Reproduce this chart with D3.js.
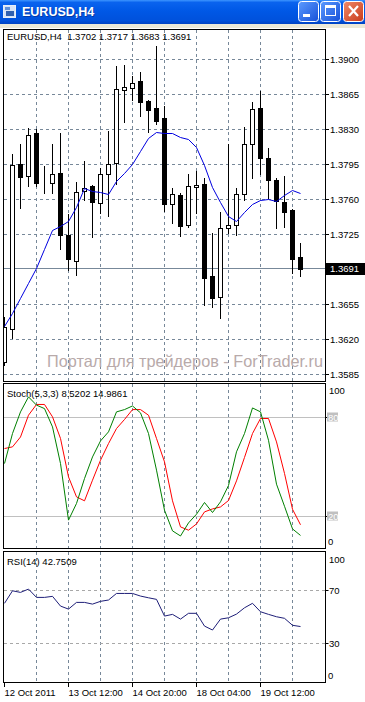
<!DOCTYPE html>
<html><head><meta charset="utf-8">
<script src="https://cdn.jsdelivr.net/npm/d3@7"></script>
<style>
body{margin:0;background:#fff}
svg{display:block}
text{font-family:"Liberation Sans",Arial,sans-serif;white-space:pre}
</style>
</head><body>
<svg id="c" width="365" height="702"></svg>
<script>
// ---------- data ----------
const times = ["2011.10.12 04:00","2011.10.12 08:00","2011.10.12 12:00","2011.10.12 16:00","2011.10.12 20:00",
"2011.10.13 00:00","2011.10.13 04:00","2011.10.13 08:00","2011.10.13 12:00","2011.10.13 16:00","2011.10.13 20:00",
"2011.10.14 00:00","2011.10.14 04:00","2011.10.14 08:00","2011.10.14 12:00","2011.10.14 16:00","2011.10.14 20:00",
"2011.10.17 00:00","2011.10.17 04:00","2011.10.17 08:00","2011.10.17 12:00","2011.10.17 16:00","2011.10.17 20:00",
"2011.10.18 00:00","2011.10.18 04:00","2011.10.18 08:00","2011.10.18 12:00","2011.10.18 16:00","2011.10.18 20:00",
"2011.10.19 00:00","2011.10.19 04:00","2011.10.19 08:00","2011.10.19 12:00","2011.10.19 16:00","2011.10.19 20:00",
"2011.10.20 00:00","2011.10.20 04:00","2011.10.20 08:00"];
const open  = [1.3598,1.3631,1.3796,1.3783,1.3826,1.3778,1.3777,1.3786,1.3724,1.3699,1.3768,1.3773,1.3757,1.3785,1.3797,1.3869,1.3871,1.3878,1.3859,1.3851,1.3841,1.3756,1.3764,1.3735,1.3772,1.3776,1.3683,1.3662,1.3731,1.3735,1.3765,1.3815,1.3851,1.3801,1.3780,1.3758,1.3749,1.3702];
const high  = [1.3642,1.3805,1.3815,1.3831,1.3830,1.3793,1.3815,1.3826,1.3745,1.3778,1.3799,1.3775,1.3791,1.3828,1.3893,1.3894,1.3883,1.3887,1.3860,1.3913,1.3853,1.3771,1.3766,1.3785,1.3788,1.3781,1.3726,1.3747,1.3816,1.3771,1.3832,1.3857,1.3868,1.3811,1.3781,1.3783,1.3750,1.3717];
const low   = [1.3595,1.3621,1.3751,1.3773,1.3773,1.3766,1.3766,1.3710,1.3689,1.3684,1.3760,1.3722,1.3746,1.3743,1.3776,1.3837,1.3860,1.3843,1.3827,1.3835,1.3748,1.3737,1.3723,1.3733,1.3746,1.3655,1.3653,1.3641,1.3726,1.3724,1.3760,1.3781,1.3785,1.3761,1.3731,1.3733,1.3686,1.3683];
const close = [1.3633,1.3795,1.3782,1.3824,1.3777,1.3778,1.3785,1.3724,1.3700,1.3767,1.3771,1.3758,1.3785,1.3796,1.3870,1.3872,1.3876,1.3857,1.3849,1.3839,1.3756,1.3765,1.3734,1.3774,1.3775,1.3681,1.3661,1.3731,1.3735,1.3765,1.3815,1.3850,1.3801,1.3780,1.3759,1.3747,1.3700,1.3691];
const ma    = [1.3633,1.3646,1.3661,1.3676,1.3691,1.3710,1.3729,1.3733,1.3738,1.3752,1.3771,1.3768,1.3767,1.3765,1.3778,1.3786,1.3795,1.3808,1.3821,1.3827,1.3826,1.3826,1.3822,1.3820,1.3812,1.3794,1.3772,1.3757,1.3743,1.3738,1.3747,1.3755,1.3759,1.3760,1.3758,1.3764,1.3769,1.3766];
const stochMain   = [52.1,70.3,83.4,92.5,87.5,85.4,74.3,52.1,17.8,27.9,43.0,56.1,65.8,71.3,83.4,84.8,87.0,82.8,70.3,48.1,23.8,11.3,8.2,16.1,21.4,28.5,22.4,28.9,38.8,59.2,70.3,85.8,83.4,66.2,39.6,26.2,12.5,8.52];
const stochSignal = [61.2,62.2,68.2,81.4,87.9,87.9,80.4,67.3,44.0,31.9,29.5,42.0,54.1,64.2,73.3,78.8,84.8,84.8,81.4,67.3,53.1,29.5,13.7,11.7,15.5,22.8,24.6,25.8,29.7,41.6,55.8,70.3,79.4,79.4,65.2,46.1,24.4,14.99];
const rsi = [60.4,69.9,68.7,71.2,64.9,64.9,65.7,58.3,56.0,61.1,61.1,59.8,61.9,62.9,67.9,67.9,67.9,65.9,64.6,63.4,50.7,52.0,48.4,52.8,52.8,43.1,40.1,48.4,49.4,52.2,57.0,60.4,54.0,52.0,50.2,49.0,43.7,42.75];
const priceTicks = [1.3900,1.3865,1.3830,1.3795,1.3760,1.3725,1.3655,1.3620,1.3585];
const lastPrice = 1.3691;
const xTickTimes  = ["2011.10.12 04:00","2011.10.13 12:00","2011.10.14 20:00","2011.10.18 04:00","2011.10.19 12:00"];
const xTickLabels = ["12 Oct 2011","13 Oct 12:00","14 Oct 20:00","18 Oct 04:00","19 Oct 12:00"];
const gridTimes = ["2011.10.12 20:00","2011.10.13 12:00","2011.10.14 04:00","2011.10.14 20:00","2011.10.17 12:00","2011.10.18 04:00","2011.10.18 20:00","2011.10.19 12:00","2011.10.20 04:00"];
const stochLevels = [80,20];
const rsiLevels = [70,30];
const mainTitle = "EURUSD,H4  1.3702 1.3717 1.3683 1.3691";
const stochTitle = "Stoch(5,3,3) 8.5202 14.9861";
const rsiTitle = "RSI(14) 42.7509";
const windowTitle = "EURUSD,H4";
const watermark = "Портал для трейдеров - ForTrader.ru";

// ---------- layout ----------
const svg = d3.select("#c");
const L = 3.5, R = 325.5;
const P = {
  main:  {top:29.5, bottom:381.5},
  stoch: {top:383.5, bottom:548.5},
  rsi:   {top:551.5, bottom:682.5}
};
const n = times.length;
const x = d3.scalePoint().domain(times).range([4.5, 300.5]);
const y = d3.scaleLinear().domain([1.3585, 1.3900]).range([374.5, 59.5]);
const ys = d3.scaleLinear().domain([0,100]).range([549.5, 384.5]);
const yr = d3.scaleLinear().domain([0,100]).range([682.8, 551.2]);
const FS = "9.5px";
const gridColor = "#778899";

const defs = svg.append("defs");
const tg = defs.append("linearGradient").attr("id","tb").attr("x1",0).attr("y1",0).attr("x2",0).attr("y2",1);
[["0%","#3D95FF"],["10%","#0A63EE"],["45%","#0058E6"],["85%","#0051DC"],["100%","#0043C4"]].forEach(s=>tg.append("stop").attr("offset",s[0]).attr("stop-color",s[1]));
const bg = defs.append("linearGradient").attr("id","bb").attr("x1",0).attr("y1",0).attr("x2",1).attr("y2",1);
[["0%","#5C9BFF"],["100%","#1650D8"]].forEach(s=>bg.append("stop").attr("offset",s[0]).attr("stop-color",s[1]));
const rg = defs.append("linearGradient").attr("id","rb").attr("x1",0).attr("y1",0).attr("x2",1).attr("y2",1);
[["0%","#F08A6A"],["100%","#C83A1A"]].forEach(s=>rg.append("stop").attr("offset",s[0]).attr("stop-color",s[1]));
Object.entries(P).forEach(([k,p])=>{
  defs.append("clipPath").attr("id","clip-"+k).append("rect")
    .attr("x",L+0.5).attr("y",p.top+0.5).attr("width",R-L-1).attr("height",p.bottom-p.top-1);
});

// ---------- window title bar ----------
svg.append("rect").attr("x",0).attr("y",0).attr("width",365).attr("height",24).attr("fill","url(#tb)");
svg.append("rect").attr("x",0).attr("y",24).attr("width",365).attr("height",4).attr("fill","#ECE9D8");
const ic = svg.append("g");
ic.append("rect").attr("x",3.5).attr("y",5.5).attr("width",12).attr("height",12).attr("fill","#D8E4F8").attr("stroke","#E8EEF8");
ic.append("rect").attr("x",6).attr("y",11).attr("width",8).attr("height",5).attr("fill","#3060B0");
ic.append("rect").attr("x",5).attr("y",7).attr("width",5).attr("height",3).attr("fill","#6090D8");
svg.append("text").attr("x",23).attr("y",17).attr("fill","#0A2A80").attr("opacity",0.6)
  .attr("font-size","12.5px").attr("font-weight","bold").text(windowTitle);
svg.append("text").attr("x",22).attr("y",16).attr("fill","#fff")
  .attr("font-size","12.5px").attr("font-weight","bold").text(windowTitle);
// buttons
[[298,"min"],[320,"max"],[343,"close"]].forEach(([bx,t])=>{
  svg.append("rect").attr("x",bx+0.5).attr("y",1.5).attr("width",20).attr("height",20).attr("rx",3)
    .attr("fill", t==="close" ? "url(#rb)" : "url(#bb)").attr("stroke","#fff").attr("stroke-width",1);
  if(t==="min") svg.append("rect").attr("x",bx+5).attr("y",14).attr("width",7).attr("height",3).attr("fill","#fff");
  if(t==="max"){
    svg.append("rect").attr("x",bx+5.5).attr("y",5.5).attr("width",10).attr("height",10).attr("fill","none").attr("stroke","#fff");
    svg.append("rect").attr("x",bx+5).attr("y",5).attr("width",11).attr("height",3).attr("fill","#fff");
  }
  if(t==="close"){
    svg.append("path").attr("d",`M${bx+6},${6} L${bx+15},${16} M${bx+15},${6} L${bx+6},${16}`)
      .attr("stroke","#fff").attr("stroke-width",2.2);
  }
});

// ---------- panels: frames & grid ----------
Object.entries(P).forEach(([k,p])=>{
  const g = svg.append("g");
  g.selectAll("line.vg").data(gridTimes).join("line")
    .attr("x1",d=>x(d)).attr("x2",d=>x(d)).attr("y1",p.top).attr("y2",p.bottom)
    .attr("stroke",gridColor).attr("stroke-dasharray","3,3").attr("shape-rendering","crispEdges");
});
// main horizontal grid
svg.append("g").selectAll("line").data(priceTicks).join("line")
  .attr("x1",L).attr("x2",R).attr("y1",d=>Math.round(y(d)-0.5)+0.5).attr("y2",d=>Math.round(y(d)-0.5)+0.5)
  .attr("stroke",gridColor).attr("stroke-dasharray","3,3").attr("shape-rendering","crispEdges");
// bid line
svg.append("line").attr("x1",L).attr("x2",R).attr("y1",Math.round(y(lastPrice)-0.5)+0.5).attr("y2",Math.round(y(lastPrice)-0.5)+0.5)
  .attr("stroke",gridColor).attr("shape-rendering","crispEdges");
// stoch levels
svg.append("g").selectAll("line").data(stochLevels).join("line")
  .attr("x1",L).attr("x2",R).attr("y1",d=>Math.round(ys(d)-0.5)+0.5).attr("y2",d=>Math.round(ys(d)-0.5)+0.5)
  .attr("stroke","#C0C0C0").attr("shape-rendering","crispEdges");
// rsi levels
svg.append("g").selectAll("line").data(rsiLevels).join("line")
  .attr("x1",L).attr("x2",R).attr("y1",d=>Math.round(yr(d)-0.5)+0.5).attr("y2",d=>Math.round(yr(d)-0.5)+0.5)
  .attr("stroke","#A8A8A8").attr("stroke-dasharray","3,3").attr("shape-rendering","crispEdges");

// watermark
svg.append("text").attr("x",47).attr("y",367).attr("fill","#B8AAAA").attr("font-size","16.5px")
  .attr("textLength",276).attr("lengthAdjust","spacingAndGlyphs").text(watermark);

// ---------- candles ----------
const gm = svg.append("g").attr("clip-path","url(#clip-main)");
const idx = d3.range(n);
gm.selectAll("line.wick").data(idx).join("line")
  .attr("x1",i=>x(times[i])).attr("x2",i=>x(times[i]))
  .attr("y1",i=>Math.round(y(high[i]))).attr("y2",i=>Math.round(y(low[i]))+1)
  .attr("stroke","#000").attr("shape-rendering","crispEdges");
gm.selectAll("rect.body").data(idx).join("rect")
  .attr("x",i=>x(times[i])-2).attr("width",4)
  .attr("y",i=>Math.round(y(Math.max(open[i],close[i])))+0.5)
  .attr("height",i=>Math.max(0,Math.round(y(Math.min(open[i],close[i])))-Math.round(y(Math.max(open[i],close[i])))))
  .attr("fill",i=>close[i]>=open[i]?"#fff":"#000").attr("stroke","#000").attr("shape-rendering","crispEdges");
// MA
gm.append("path").datum(idx).attr("fill","none").attr("stroke","#0000E0").attr("stroke-width",1)
  .attr("d",d3.line().x(i=>x(times[i])).y(i=>y(ma[i])));

// ---------- stochastic ----------
const gs = svg.append("g").attr("clip-path","url(#clip-stoch)");
gs.append("path").datum(idx).attr("fill","none").attr("stroke","#FF0000")
  .attr("d",d3.line().x(i=>x(times[i])).y(i=>ys(stochSignal[i])));
gs.append("path").datum(idx).attr("fill","none").attr("stroke","#008000")
  .attr("d",d3.line().x(i=>x(times[i])).y(i=>ys(stochMain[i])));

// ---------- RSI ----------
const gr = svg.append("g").attr("clip-path","url(#clip-rsi)");
gr.append("path").datum(idx).attr("fill","none").attr("stroke","#1E1E78")
  .attr("d",d3.line().x(i=>x(times[i])).y(i=>yr(rsi[i])));

// frames
Object.values(P).forEach(p=>{
  svg.append("rect").attr("x",L).attr("y",p.top).attr("width",R-L).attr("height",p.bottom-p.top)
    .attr("fill","none").attr("stroke","#000").attr("shape-rendering","crispEdges");
});

// ---------- labels ----------
svg.append("text").attr("x",7).attr("y",40).attr("font-size",FS).text(mainTitle);
svg.append("text").attr("x",7).attr("y",397).attr("font-size",FS).text(stochTitle);
svg.append("text").attr("x",7).attr("y",565).attr("font-size",FS).text(rsiTitle);

// price axis
const pa = svg.append("g");
pa.selectAll("line").data(priceTicks).join("line")
  .attr("x1",R).attr("x2",R+3).attr("y1",d=>Math.round(y(d)-0.5)+0.5).attr("y2",d=>Math.round(y(d)-0.5)+0.5)
  .attr("stroke","#000").attr("shape-rendering","crispEdges");
pa.selectAll("text").data(priceTicks).join("text")
  .attr("x",330).attr("y",d=>y(d)).attr("dy","0.36em").attr("font-size",FS).text(d=>d.toFixed(4));
pa.append("rect").attr("x",326).attr("y",Math.round(y(lastPrice))-6).attr("width",39).attr("height",12).attr("fill","#000");
pa.append("text").attr("x",330).attr("y",y(lastPrice)).attr("dy","0.36em").attr("font-size",FS).attr("fill","#fff").text(lastPrice.toFixed(4));

// stoch axis
const sa = svg.append("g");
sa.append("text").attr("x",329).attr("y",ys(100)+6).attr("dy","0.36em").attr("font-size",FS).text("100");
sa.append("text").attr("x",328).attr("y",ys(0)-8).attr("dy","0.36em").attr("font-size",FS).text("0");
stochLevels.forEach(v=>{
  sa.append("line").attr("x1",R).attr("x2",R+3).attr("y1",Math.round(ys(v)-0.5)+0.5).attr("y2",Math.round(ys(v)-0.5)+0.5).attr("stroke","#000");
  sa.append("rect").attr("x",327).attr("y",ys(v)-5).attr("width",11).attr("height",9).attr("fill","#C0C0C0");
  sa.append("text").attr("x",328).attr("y",ys(v)).attr("dy","0.36em").attr("font-size",FS).attr("fill","#fff").text(v);
});
// rsi axis
const ra = svg.append("g");
ra.append("text").attr("x",329).attr("y",yr(100)+8).attr("dy","0.36em").attr("font-size",FS).text("100");
ra.append("text").attr("x",328).attr("y",yr(0)-7).attr("dy","0.36em").attr("font-size",FS).text("0");
rsiLevels.forEach(v=>{
  ra.append("line").attr("x1",R).attr("x2",R+3).attr("y1",Math.round(yr(v)-0.5)+0.5).attr("y2",Math.round(yr(v)-0.5)+0.5).attr("stroke","#000");
  ra.append("text").attr("x",329).attr("y",yr(v)).attr("dy","0.36em").attr("font-size",FS).text(v);
});

// time axis
const ta = svg.append("g");
ta.selectAll("line").data(xTickTimes).join("line")
  .attr("x1",d=>x(d)).attr("x2",d=>x(d)).attr("y1",P.rsi.bottom).attr("y2",P.rsi.bottom+4)
  .attr("stroke","#000").attr("shape-rendering","crispEdges");
ta.selectAll("text").data(xTickTimes).join("text")
  .attr("x",d=>x(d)).attr("y",695.5).attr("font-size",FS).text((d,i)=>xTickLabels[i]);
</script>
</body></html>
